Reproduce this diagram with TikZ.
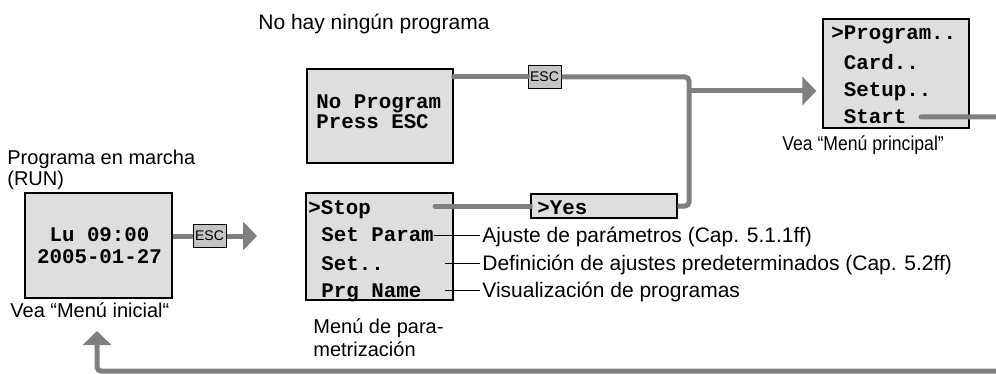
\documentclass[tikz,border=0pt]{standalone}
\usepackage{fontspec}
\setmainfont{Liberation Sans}
\newfontfamily\lcdfont{Liberation Mono}
\usetikzlibrary{arrows.meta,calc}

\definecolor{lcdgray}{RGB}{222,222,222}
\definecolor{escgray}{RGB}{196,196,196}
\definecolor{linkgray}{RGB}{128,128,128}

\tikzset{
  screen/.style={draw=black, fill=lcdgray, line width=0.6pt, inner sep=0pt},
  lcd/.style={font=\lcdfont\bfseries\fontsize{10.4pt}{12pt}\selectfont, anchor=west, inner sep=0pt, text height=7pt, text depth=0pt},
  note/.style={font=\fontsize{10.5pt}{12pt}\selectfont, anchor=west, inner sep=0pt, text height=7.4pt, text depth=0pt},
  block/.style={align=left, anchor=north west, inner sep=0pt},
  esckey/.style={draw=black, fill=escgray, line width=0.5pt, inner sep=0pt, minimum width=16.5pt, minimum height=11.5pt, font=\fontsize{7pt}{8pt}\selectfont},
  link/.style={draw=linkgray, line width=2.5pt, rounded corners=2pt},
  flow/.style={link, -{Triangle[length=7pt,width=14pt]}},
  pointer/.style={draw=black, line width=0.5pt},
}

\begin{document}
\begin{tikzpicture}[x=0.5pt,y=-0.5pt]
\clip (0,0) rectangle (996,374);

% screens
\node[screen, minimum width=73.5pt, minimum height=52.5pt] (run) at (98.5,245.5) {};
\node[lcd, anchor=center] (runtime) at (99.5,235) {Lu 09:00};
\node[lcd, anchor=center] (rundate) at (99.5,256) {2005-01-27};

\node[screen, minimum width=73pt, minimum height=47pt] (noprog) at (380,116) {};
\node[lcd] (noprogA) at (316,102) {No Program};
\node[lcd] (noprogB) at (316,121) {Press ESC};

\node[screen, minimum width=73.5pt, minimum height=53.5pt] (param) at (379.5,246.5) {};
\node[lcd] (stop) at (308,207) {>Stop};
\node[lcd] (setparam) at (321,235) {Set Param};
\node[lcd] (setdefault) at (321,263) {Set..};
\node[lcd] (prgname) at (321,290) {Prg Name};

\node[screen, minimum width=73pt, minimum height=12pt] (yes) at (604,206) {};
\node[lcd] (yestext) at (537,207) {>Yes};

\node[screen, minimum width=73pt, minimum height=54.5pt] (main) at (896,73.5) {};
\node[lcd] (program) at (831,33) {>Program..};
\node[lcd] (card) at (843.5,63) {Card..};
\node[lcd] (setup) at (843.5,90) {Setup..};
\node[lcd] (start) at (843.5,117) {Start};

% keys
\node[esckey] (esc1) at (209.5,236) {ESC};
\node[esckey] (esc2) at (544.5,77) {ESC};

% texts
\node[note] (nothing) at (258,22) {No hay ningún programa};
\node[block, font=\fontsize{10pt}{9pt}\selectfont] (running) at (7,150) {Programa en marcha\\(RUN)};
\node[note, font=\fontsize{10pt}{12pt}\selectfont] (runsee) at (10,310) {Vea “Menú inicial“};
\node[block, font=\fontsize{10pt}{11.5pt}\selectfont] (parammenu) at (313,318) {Menú de para-\\metrización};
\node[note, font=\fontsize{10pt}{12pt}\selectfont] (mainsee) at (782,143) {\scalebox{0.88}[1]{Vea “Menú principal”}};
\node[note] (ajuste) at (482,235) {Ajuste de parámetros (Cap. 5.1.1ff)};
\node[note] (defin) at (482,263) {Definición de ajustes predeterminados (Cap. 5.2ff)};
\node[note] (visual) at (482,290) {Visualización de programas};

% pointers
\coordinate (setdefaultend) at (445,263);
\coordinate (prgnameend) at (445,290);
\draw[pointer] (setparam.east) -- ([xshift=-1pt]ajuste.west);
\draw[pointer] (setdefaultend) -- ([xshift=-1pt]defin.west);
\draw[pointer] (prgnameend) -- ([xshift=-1pt]visual.west);

% gray flow
\coordinate (runtip) at (257,236);
\draw[link] (esc1.west -| run.east) -- (esc1.west);
\draw[flow] (esc1.east) -- (runtip);

\coordinate (turn) at (689,77);
\coordinate (split) at (689,91);
\coordinate (stopdot) at (435,206);
\draw[link, line cap=round] (esc2.west -| noprog.east) -- (esc2.west);
\draw[link] (esc2.east) -- (turn) -- (turn |- yes.east) -- (yes.east);
\draw[link, line cap=round] (stopdot) -- (yes.west);
\draw[flow, shorten >=3pt] (split) -- (split -| main.west);

\coordinate (startdot) at (921,117);
\coordinate (corner) at (97,371);
\coordinate (backtip) at (97,331);
\draw[flow, line cap=round] (startdot) -- (1010,117) -- (1010,371) -- (corner) -- (backtip);
\end{tikzpicture}
\end{document}
